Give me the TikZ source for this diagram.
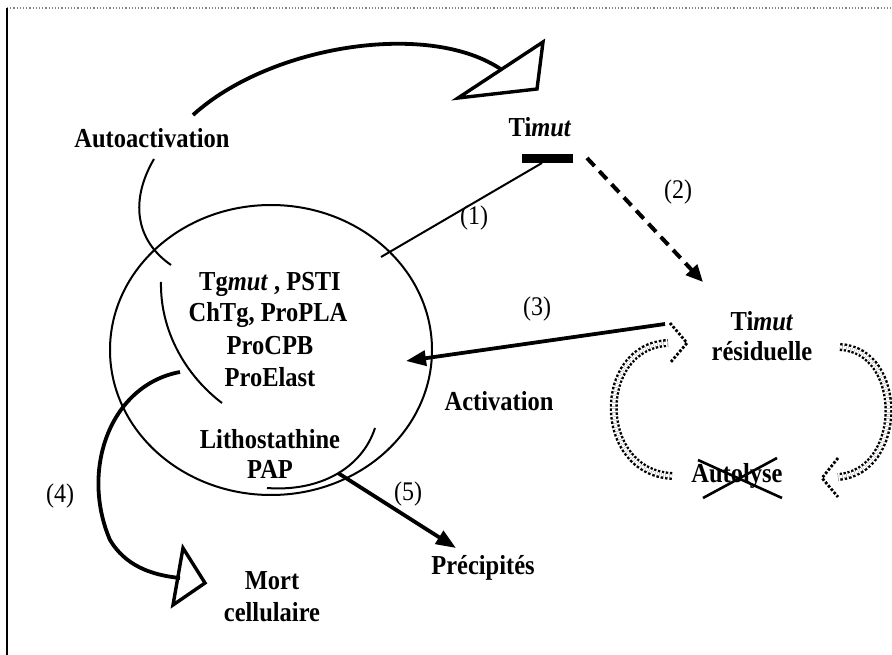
\documentclass[tikz,border=0pt]{standalone}
\usepackage{fontspec}
\usepackage{graphicx}
\setmainfont{Liberation Serif}
\usetikzlibrary{arrows.meta}
\newcommand{\tallt}[1]{\scalebox{1}[1.12]{#1}}
\begin{document}
\begin{tikzpicture}[x=1pt,y=-1pt,
  lbl/.style={font=\fontsize{24.5}{28}\selectfont\bfseries, inner sep=0pt},
  num/.style={font=\fontsize{24}{28}\selectfont, inner sep=0pt},
  thinline/.style={line width=2pt},
  heavy/.style={line width=3.8pt},
  hollowhead/.style={line width=3.4pt, line join=miter},
  solidtip/.style={-{Triangle[length=20pt,width=15pt]}},
  dottedarrow/.style={double, double distance=3.2pt, line width=2.4pt, dash pattern=on 2.4pt off 1.8pt},
  dottedhead/.style={line width=2.8pt, dash pattern=on 2.6pt off 1.8pt}
]
\useasboundingbox (0,0) rectangle (892,655);
% frame
\draw[gray, dotted, line width=1.2pt] (7,8) -- (892,8);
\draw[line width=1.6pt] (7,8) -- (7,655);

% cell ellipse
\coordinate (cc) at (271,350);
\draw[thinline] (cc) ellipse [x radius=161, y radius=145];

% texts inside
\node[lbl] (t1) at (270,284) {\tallt{Tg\textit{mut} , PSTI}};
\node[lbl] (t2) at (268,315) {\tallt{ChTg, ProPLA}};
\node[lbl] (t3) at (270,346) {\tallt{ProCPB}};
\node[lbl] (t4) at (270,377) {\tallt{ProElast}};
\node[lbl] (t5) at (270,439) {\tallt{Lithostathine}};
\node[lbl] (t6) at (270,469) {\tallt{PAP}};

\node[lbl] (auto) at (152,138) {\tallt{Autoactivation}};
\node[lbl] (timut) at (540,127) {\tallt{Ti\textit{mut}}};
\node[lbl] (timutr) at (762,321) {\tallt{Ti\textit{mut}}};
\node[lbl] (resid) at (762,351) {\tallt{résiduelle}};
\node[lbl] (autolyse) at (737,476) {\tallt{Autolyse}};
\node[lbl] (activ) at (499,401) {\tallt{Activation}};
\node[lbl] (precip) at (483,568) {\tallt{Précipités}};
\node[lbl] (mort) at (272,581) {\tallt{Mort}};
\node[lbl] (cellul) at (272,612) {\tallt{cellulaire}};

\node[num] (n1) at (474,218) {\tallt{(1)}};
\node[num] (n2) at (678,192) {\tallt{(2)}};
\node[num] (n3) at (537,309) {\tallt{(3)}};
\node[num] (n4) at (60,496) {\tallt{(4)}};
\node[num] (n5) at (408,494) {\tallt{(5)}};

% Timut bar
\node[fill=black, minimum width=51pt, minimum height=9pt, inner sep=0pt] (bar) at (547.5,158.5) {};

% coordinates
\coordinate (l1s) at (381,257);
\coordinate (barb) at (542,163);
\coordinate (d2s) at (587,158);
\coordinate (d2e) at (703,282);
\coordinate (a3s) at (665,324);
\coordinate (a3e) at (406,361);
\coordinate (a5s) at (338,473);
\coordinate (a5e) at (456,548);

% (1) inhibition line
\draw[thinline] (l1s) -- (barb);
% (2) dashed arrow
\draw[line width=4pt, dash pattern=on 11pt off 7pt, -{Triangle[length=17pt,width=15pt]}] (d2s) -- (d2e);
% (3) activation arrow
\draw[heavy, solidtip] (a3s) -- (a3e);
% (5) arrow
\draw[heavy, solidtip] (a5s) -- (a5e);

% autoactivation big arc
\coordinate (aa1) at (193,115);
\coordinate (aa2) at (502,70);
\draw[heavy] (aa1) .. controls (270,45) and (430,20) .. (aa2);
\draw[hollowhead] (543,42) -- (458,98) -- (537,89) -- cycle;
% lower autoactivation arc
\coordinate (ab1) at (154,159);
\coordinate (ab2) at (171,265);
\draw[thinline] (ab1) .. controls (130,200) and (135,240) .. (ab2);
% inner arc
\coordinate (ic1) at (161,282);
\coordinate (ic2) at (222,403);
\draw[thinline] (ic1) .. controls (160,330) and (185,375) .. (ic2);
% PAP arc
\coordinate (pa1) at (375,428);
\coordinate (pa2) at (267,488);
\draw[thinline] (pa1) .. controls (362,468) and (320,492) .. (pa2);

% (4) arc to cell death
\coordinate (m1) at (180,372);
\coordinate (m2) at (180,578);
\draw[heavy] (m1) .. controls (110,385) and (80,470) .. (110,540) .. controls (125,565) and (150,575) .. (m2);
\draw[hollowhead] (183,548) -- (205,583) -- (173,605) -- cycle;

% dotted recycling arrows
\coordinate (la1) at (672,476);
\coordinate (la2) at (668,343);
\draw[dottedarrow] (la1) .. controls (595,472) and (595,346) .. (la2);
\draw[dottedhead] (670,323) -- (687,343) -- (670,363);
\coordinate (ra1) at (840,347);
\coordinate (ra2) at (838,477);
\draw[dottedarrow] (ra1) .. controls (905,350) and (905,472) .. (ra2);
\draw[dottedhead] (838,458) -- (822,478) -- (838,497);

% cross over Autolyse
\draw[line width=2.6pt] (698,460) -- (782,498);
\draw[line width=2.6pt] (703,498) -- (777,458);
\end{tikzpicture}
\end{document}
